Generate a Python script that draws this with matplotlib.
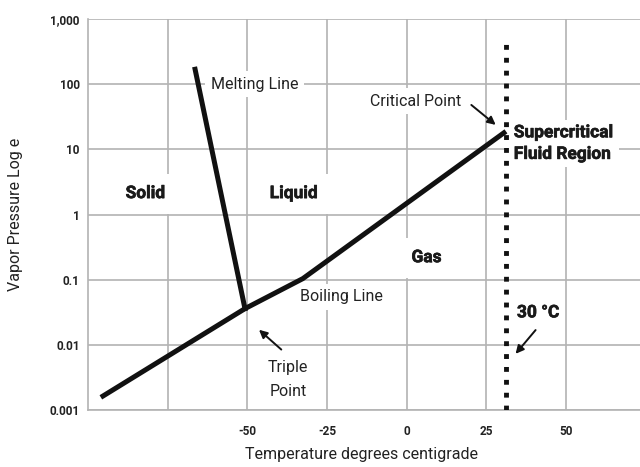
import numpy as np
import matplotlib.pyplot as plt
import matplotlib.patheffects as pe
from matplotlib.ticker import FixedLocator

plt.rcParams['font.family'] = ['Roboto', 'DejaVu Sans']

# boiling line: start, triple point, kink, critical point
boil_t = [-95.3, -50.75, -32.6, 30.5]
boil_p = [0.00164, 0.036, 0.104, 18.0]

# melting line from its top down to the triple point
melt_t = [-66.4, -50.75]
melt_p = [170.0, 0.036]

# 30 C isotherm
iso_t = [31.0, 31.0]
iso_p = [0.001, 450.0]

y_ticks = [0.001, 0.01, 0.1, 1, 10, 100, 1000]
y_labels = ['0.001', '0.01', '0.1', '1', '10', '100', '1,000']
x_grid = [-75, -50, -25, 0, 25, 50]
x_ticks = [-50, -25, 0, 25, 50]

grid_col = '#b3b3b3'

fig = plt.figure(figsize=(6.4, 4.67), dpi=100)
ax = fig.add_axes([0.1375, 0.122, 0.8625, 0.837])

ax.set_yscale('log')
ax.set_xlim(-100, 73.2)
ax.set_ylim(0.001, 1000)

for t in x_grid:
    ax.axvline(t, color=grid_col, lw=1.2, zorder=0)
for p in y_ticks:
    ax.axhline(p, color=grid_col, lw=1.2, zorder=0)

ax.yaxis.set_major_locator(FixedLocator(y_ticks))
ax.yaxis.set_minor_locator(FixedLocator([]))
ax.set_yticklabels(y_labels)
ax.set_xticks(x_ticks)
ax.set_xticklabels([str(t) for t in x_ticks])
ax.tick_params(length=0, labelsize=8.5, colors='#222222')
ax.tick_params(axis='x', pad=11)
ax.tick_params(axis='y', pad=6)
for lab in ax.get_xticklabels() + ax.get_yticklabels():
    lab.set_fontweight('bold')

for side in ['top', 'right']:
    ax.spines[side].set_visible(False)
for side in ['left', 'bottom']:
    ax.spines[side].set_color(grid_col)
    ax.spines[side].set_linewidth(1.2)

ax.plot(boil_t, boil_p, color='#111111', lw=3.6, solid_joinstyle='miter', zorder=3)
ax.plot(melt_t, melt_p, color='#111111', lw=3.6, zorder=3)
ax.plot(iso_t, iso_p, color='#111111', lw=3.5, linestyle=(0, (1, 1.65)),
        dash_capstyle='butt', zorder=3)

box = dict(facecolor='white', edgecolor='none', pad=4)
txt = dict(color='#222222', fontsize=11.5, zorder=2, bbox=box)
# region names get a thin stroke so they read heavier
heavy = [pe.withStroke(linewidth=0.45, foreground='#1a1a1a')]
bold = dict(txt, fontsize=12.5, fontweight='bold', color='#1a1a1a', path_effects=heavy)
wide = dict(bold, bbox=dict(box, pad=9))

ax.text(-82, 2.1, 'Solid', ha='center', va='center', **wide)
ax.text(-35.5, 2.1, 'Liquid', ha='center', va='center', **wide)
ax.text(1.5, 0.218, 'Gas', ha='left', va='center', **wide)
ax.text(-61.5, 100, 'Melting Line', ha='left', va='center', **txt)
ax.text(-33.5, 0.055, 'Boiling Line', ha='left', va='center', **txt)
ax.text(-37.3, 0.0029, 'Triple\nPoint', ha='center', va='center',
        linespacing=1.75, **txt)
ax.text(-11.5, 100 * 10 ** -0.26, 'Critical Point', ha='left', va='center', **txt)
ax.text(33.6, 12.3, 'Supercritical\nFluid Region', ha='left', va='center',
        linespacing=1.55, **bold)
ax.text(34.6, 0.031, '30 °C', ha='left', va='center', **bold)

arrow = dict(arrowstyle='-|>', color='#111111', lw=1.4, mutation_scale=12)
ax.annotate('', xy=(28.6, 100 * 10 ** -0.65), xytext=(19.6, 100 * 10 ** -0.29), arrowprops=arrow)
ax.annotate('', xy=(33.6, 0.01 * 10 ** -0.17), xytext=(41.0, 0.01 * 10 ** 0.26), arrowprops=arrow)
ax.annotate('', xy=(-47, 0.01 * 10 ** 0.26), xytext=(-38.7, 0.01 * 10 ** -0.1), arrowprops=arrow)

ax.set_xlabel('Temperature degrees centigrade', fontsize=11.5, color='#222222')
ax.set_ylabel('Vapor Pressure Log e', fontsize=11.5, color='#222222')
ax.xaxis.set_label_coords(0.496, -0.095)
ax.yaxis.set_label_coords(-0.118, 0.5)

plt.savefig('out.png', dpi=100)
